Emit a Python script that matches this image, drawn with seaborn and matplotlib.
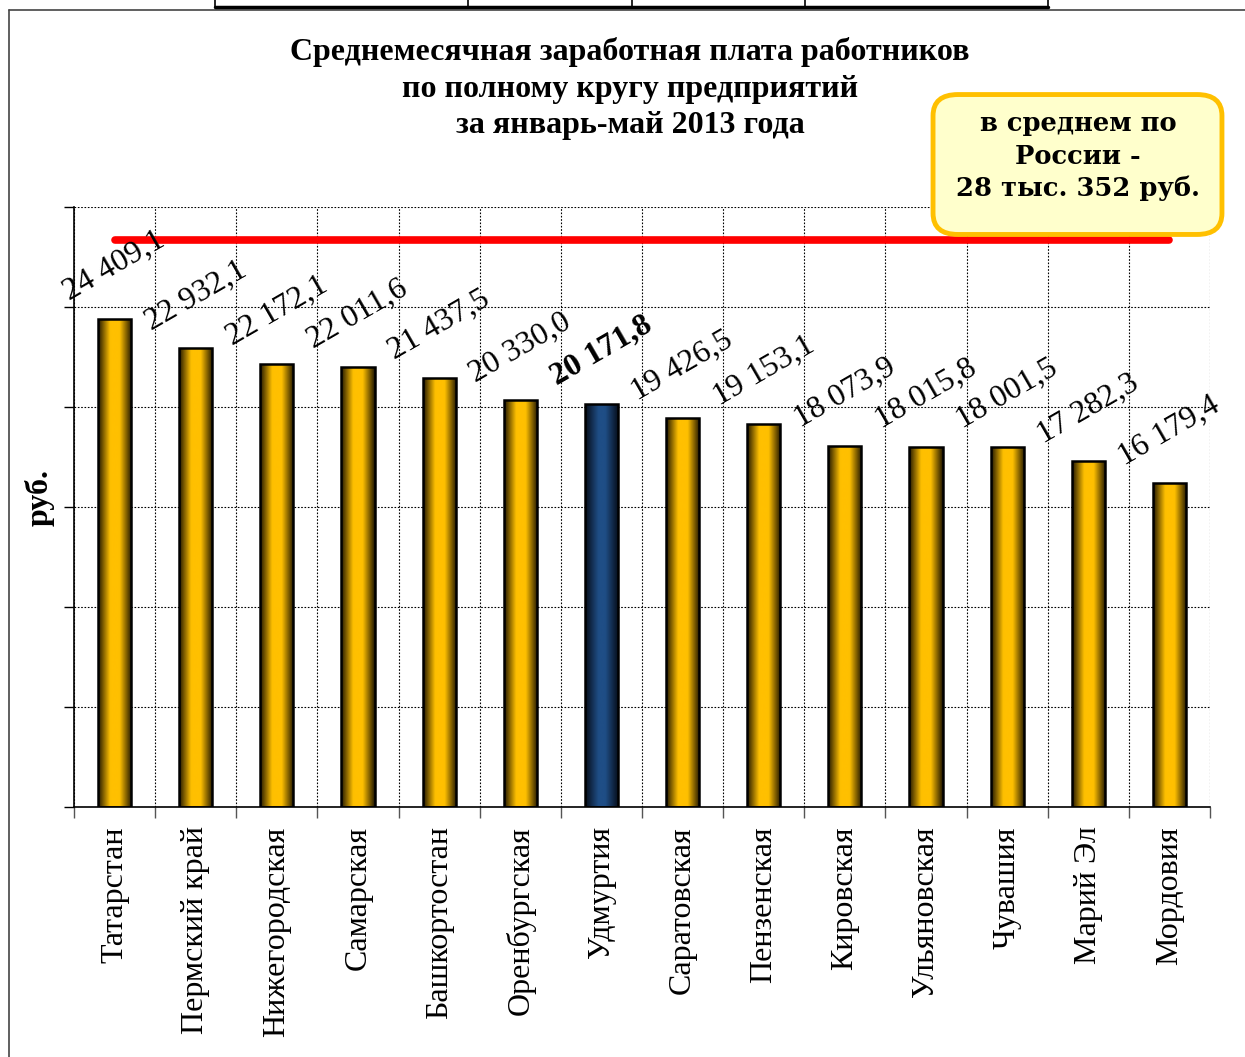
import numpy as np
import pandas as pd
import matplotlib
matplotlib.use("Agg")
import matplotlib.pyplot as plt
from matplotlib.colors import LinearSegmentedColormap
from matplotlib.patches import FancyBboxPatch
from matplotlib.lines import Line2D
import seaborn as sns

# ---------------- data ----------------
regions = ["Татарстан", "Пермский край", "Нижегородская", "Самарская", "Башкортостан",
           "Оренбургская", "Удмуртия", "Саратовская", "Пензенская", "Кировская",
           "Ульяновская", "Чувашия", "Марий Эл", "Мордовия"]
wages = [24409.1, 22932.1, 22172.1, 22011.6, 21437.5, 20330.0, 20171.8,
         19426.5, 19153.1, 18073.9, 18015.8, 18001.5, 17282.3, 16179.4]
highlight = "Удмуртия"
russia_avg = 28352
title_lines = ["Среднемесячная заработная плата работников",
               "по полному кругу предприятий",
               "за январь-май 2013 года"]
callout_lines = ["в среднем по", "России -", "28 тыс. 352 руб."]
y_label = "руб."
y_ticks = [0, 5000, 10000, 15000, 20000, 25000, 30000]

df = pd.DataFrame({"region": regions, "wage": wages})

sns.set_theme(style="white")
plt.rcParams["font.family"] = ["Liberation Serif", "DejaVu Serif"]
plt.rcParams["text.color"] = "black"
plt.rcParams["xtick.labelcolor"] = "black"
plt.rcParams["ytick.labelcolor"] = "black"

W, H = 1245, 1057
fig = plt.figure(figsize=(W / 100, H / 100), dpi=100)
ax = fig.add_axes([74 / W, 1 - 807 / H, (1210 - 74) / W, (807 - 207) / H])

gold = "#FFC000"
navy = "#1F4E86"
palette = {r: (navy if r == highlight else gold) for r in regions}
sns.barplot(data=df, x="region", y="wage", hue="region", palette=palette,
            width=0.41, edgecolor="black", linewidth=1.8, legend=False, ax=ax,
            zorder=3)

n = len(regions)

# gradient fills
cm_gold = LinearSegmentedColormap.from_list(
    "g", [(0, "#1e1400"), (0.36, gold), (0.64, gold), (1, "#1e1400")])
cm_blue = LinearSegmentedColormap.from_list(
    "b", [(0, "#050b16"), (0.4, navy), (0.6, navy), (1, "#050b16")])
grad = np.linspace(0, 1, 256).reshape(1, -1)
for p, r in zip(ax.patches, regions):
    x0, y0 = p.get_x(), p.get_y()
    w, h = p.get_width(), p.get_height()
    im = ax.imshow(grad, extent=[x0, x0 + w, y0, y0 + h], aspect="auto",
                   cmap=cm_blue if r == highlight else cm_gold,
                   origin="lower", zorder=2.5, interpolation="bicubic")
    im.set_clip_path(p)
    p.set_facecolor("none")
    p.set_zorder(3)
ax.set_xlim(-0.5, n - 0.5)
ax.set_ylim(y_ticks[0], y_ticks[-1])

# average line
ax.hlines(russia_avg, 0, n - 1, color="#FF0000", linewidth=5.5,
          capstyle="round", zorder=4)

# value labels
def fmt(v):
    return f"{v:,.1f}".replace(",", " ").replace(".", ",")

for i, v in enumerate(wages):
    ax.annotate(fmt(v), xy=(i, v), xytext=(0, 38), textcoords="offset points",
                ha="center", va="center", rotation=30, fontsize=23,
                fontweight="bold" if regions[i] == highlight else "normal",
                color="black", zorder=5)

# axes styling
ax.set_yticks(y_ticks)
ax.set_yticklabels([])
ax.tick_params(axis="y", direction="out", length=7, width=1, color="black", left=True)
ax.set_xticks(range(n))
ax.set_xticklabels(regions, rotation=90, fontsize=23, color="black")
ax.tick_params(axis="x", which="major", length=0, pad=14)
ax.set_xticks(np.arange(-0.5, n, 1.0), minor=True)
ax.tick_params(axis="x", which="minor", direction="out", length=8, width=1,
               color="#555555", bottom=True)
ax.grid(False)
ax.yaxis.grid(True, which="major", linestyle=(0, (1.5, 1.5)), color="black", linewidth=0.8)
ax.xaxis.grid(True, which="minor", linestyle=(0, (1.5, 1.5)), color="black", linewidth=0.8)
ax.set_axisbelow(True)
for s in ["top", "right"]:
    ax.spines[s].set_visible(False)
ax.spines["left"].set_color("black")
ax.spines["bottom"].set_color("black")
ax.spines["left"].set_linewidth(1.2)
ax.spines["bottom"].set_linewidth(1.2)
ax.set_xlabel("")
ax.set_ylabel("")

fig.text(40 / W, 1 - 497 / H, y_label, rotation=90, ha="center", va="center",
         fontsize=23, fontweight="bold", color="black")

# title
for k, line in enumerate(title_lines):
    fig.text(630 / W, 1 - (52 + 37 * k) / H, line, ha="center", va="center",
             fontsize=23, fontweight="bold", color="black")

# callout box
box = FancyBboxPatch((943 / W, 1 - 226 / H), (1212 - 943) / W, (226 - 103) / H,
                     boxstyle="round,pad=0.008,rounding_size=0.02",
                     transform=fig.transFigure, facecolor="#FFFFCC",
                     edgecolor="#FFC000", linewidth=3.5, zorder=10)
fig.patches.append(box)
for k, line in enumerate(callout_lines):
    fig.text(1078 / W, 1 - (124 + 32 * k) / H, line, ha="center", va="center",
             fontsize=18.5, fontweight="bold", family="DejaVu Serif",
             color="black", zorder=11)

# page borders
def fline(xs, ys, **kw):
    fig.add_artist(Line2D([x / W for x in xs], [1 - y / H for y in ys],
                          transform=fig.transFigure, **kw))

fline([9, 9], [10, 1057], color="#444444", linewidth=1.2)
fline([9, 1245], [10, 10], color="#444444", linewidth=1.2)
fline([215, 1048], [7, 7], color="black", linewidth=2.5)
for xv in [215, 468, 632, 805, 1048]:
    fline([xv, xv], [0, 7], color="black", linewidth=1.2)

fig.savefig("out.png", dpi=100)
